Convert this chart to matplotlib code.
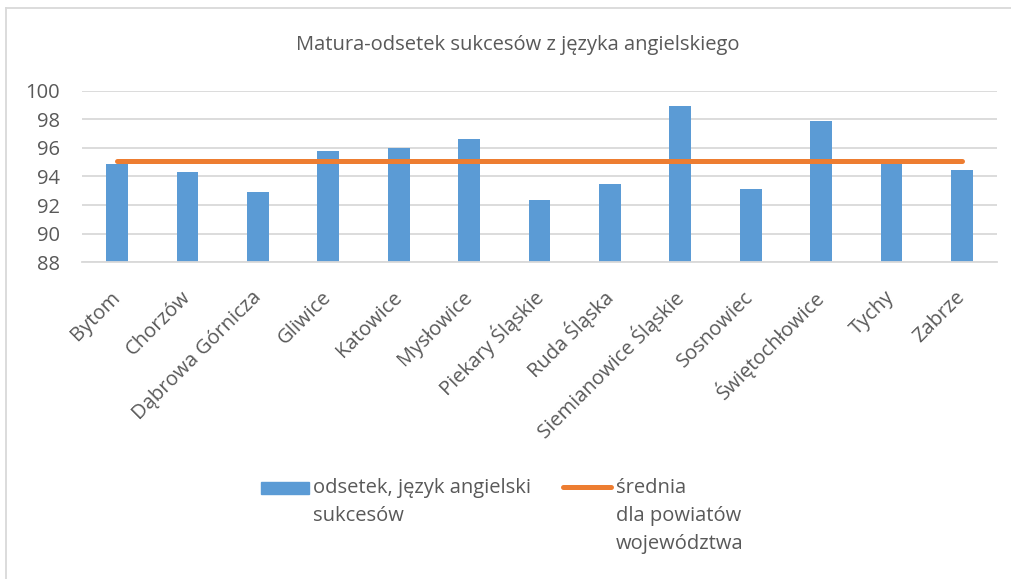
import numpy as np
import matplotlib.pyplot as plt
from matplotlib.lines import Line2D
from matplotlib.patches import Rectangle

plt.rcParams['font.family'] = ['Open Sans', 'DejaVu Sans']

# Dane: odsetek sukcesów z języka angielskiego
miasta = ["Bytom", "Chorzów", "Dąbrowa Górnicza", "Gliwice", "Katowice",
          "Mysłowice", "Piekary Śląskie", "Ruda Śląska", "Siemianowice Śląskie",
          "Sosnowiec", "Świętochłowice", "Tychy", "Zabrze"]
odsetek = [94.85, 94.3, 92.95, 95.8, 96.0, 96.6, 92.35, 93.5, 98.95,
           93.15, 97.9, 95.05, 94.45]
srednia = [95.1] * len(miasta)
etykieta_slupki = "odsetek, język angielski\nsukcesów"
etykieta_linia = "średnia\ndla powiatów\nwojewództwa"

niebieski = "#5B9BD5"
pomaranczowy = "#ED7D31"
szary_tekst = "#595959"
W, H = 1011, 579
FS = 14.5

fig = plt.figure(figsize=(W / 100, H / 100), dpi=100)
ax = fig.add_axes([82 / W, 1 - 262.3 / H, (997 - 82) / W, (262.3 - 90.7) / H])

x = np.arange(len(miasta))
ax.bar(x, odsetek, width=0.31, color=niebieski, zorder=2)
ax.plot(x, srednia, color=pomaranczowy, lw=3.6, solid_capstyle="round", zorder=3)

ax.set_xlim(-0.5, len(miasta) - 0.5)
ax.set_ylim(88, 100)
ax.set_yticks(range(88, 101, 2))
ax.yaxis.grid(True, color="#D9D9D9", lw=1.3, zorder=0)
ax.set_axisbelow(True)
for s in ["top", "right", "left"]:
    ax.spines[s].set_visible(False)
ax.spines["bottom"].set_color("#D9D9D9")
ax.spines["bottom"].set_linewidth(1.3)
ax.tick_params(axis="both", length=0, labelsize=FS, colors=szary_tekst)
ax.tick_params(axis="y", pad=16)
ax.set_xticks(x)
ax.set_xticklabels(miasta, rotation=45, ha="right", va="center", rotation_mode="anchor")
ax.tick_params(axis="x", pad=23)

fig.text(0.512, 1 - 45 / H, "Matura-odsetek sukcesów z języka angielskiego",
         ha="center", va="center", fontsize=FS, color=szary_tekst)

# legenda pod wykresem, rysowana recznie
fig.add_artist(Rectangle((261 / W, 1 - 494 / H), 48 / W, 12 / H,
                         transform=fig.transFigure, color=niebieski))
fig.text(313 / W, 1 - 478 / H, etykieta_slupki, ha="left", va="top",
         fontsize=FS, color=szary_tekst, linespacing=1.55)
fig.add_artist(Line2D([563 / W, 611 / W], [1 - 487 / H, 1 - 487 / H],
                      color=pomaranczowy, lw=3.6, solid_capstyle="round"))
fig.text(616 / W, 1 - 478 / H, etykieta_linia, ha="left", va="top",
         fontsize=FS, color=szary_tekst, linespacing=1.55)

# ramka obszaru wykresu
fig.add_artist(Line2D([6 / W, 6 / W], [0, 1 - 8 / H], color="#D9D9D9", lw=1.3))
fig.add_artist(Line2D([6 / W, 1], [1 - 8 / H, 1 - 8 / H], color="#D9D9D9", lw=1.3))

fig.savefig("out.png", dpi=100)
